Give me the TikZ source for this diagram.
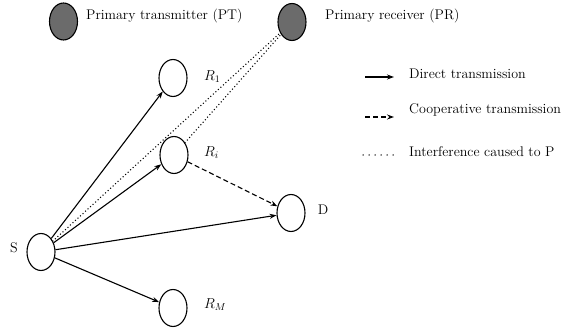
\documentclass[tikz,border=0pt]{standalone}
\usetikzlibrary{shapes.geometric,arrows.meta}
\begin{document}
\begin{tikzpicture}[x=1pt,y=-1pt,
  every node/.style={font=\fontsize{14}{17}\selectfont},
  station/.style={ellipse,draw=black,line width=1.1pt,minimum width=28pt,minimum height=37pt,inner sep=0pt},
  primary/.style={station,fill=black!58},
  label/.style={inner sep=0pt},
  direct/.style={line width=1.1pt,-{Stealth[length=7pt,width=5pt]}},
  coop/.style={line width=1.1pt,dash pattern=on 5pt off 3pt,-{Stealth[length=7pt,width=5pt]}},
  interf/.style={line width=1.5pt,line cap=round,dash pattern=on 0pt off 3.4pt}]
\useasboundingbox (0,0) rectangle (570,328);

% primary network
\node[primary] (PT) at (63.5,21.5) {};
\node[primary] (PR) at (292,22) {};
\node[label,anchor=west] (PTl) at (86,16) {Primary transmitter (PT)};
\node[label,anchor=west] (PRl) at (325,16) {Primary receiver (PR)};

% secondary nodes
\node[station] (S)  at (41,252) {};
\node[station] (R1) at (173,78) {};
\node[station] (Ri) at (174,155) {};
\node[station] (D)  at (291,213) {};
\node[station] (RM) at (173,308) {};

\node[label] (Sl)  at (14,248) {S};
\node[label] (Dl)  at (323,210) {D};
\node[label,anchor=west] (R1l) at (204,77) {$R_1$};
\node[label,anchor=west] (Ril) at (204,153) {$R_i$};
\node[label,anchor=west] (RMl) at (204,305) {$R_M$};

% links
\draw[direct] (S) -- (R1);
\draw[direct] (S) -- (Ri);
\draw[direct] (S) -- (D);
\draw[direct] (S) -- (RM);
\draw[coop] (Ri) -- (D);
\draw[interf] (S) -- (PR);
\draw[interf] (Ri) -- (PR);

% legend
\coordinate (L1a) at (365,77);  \coordinate (L1b) at (394,77);
\coordinate (L2a) at (365,117); \coordinate (L2b) at (394,117);
\coordinate (L3a) at (363,155); \coordinate (L3b) at (393.5,155);
\draw[direct] (L1a) -- (L1b);
\draw[coop] (L2a) -- (L2b);
\draw[interf,dash pattern=on 0pt off 6pt] (L3a) -- (L3b);
\node[label,anchor=west] (T1) at (409,74) {Direct transmission};
\node[label,anchor=west] (T2) at (409,110) {Cooperative transmission};
\node[label,anchor=west] (T3) at (409,152) {Interference caused to P};
\end{tikzpicture}
\end{document}
